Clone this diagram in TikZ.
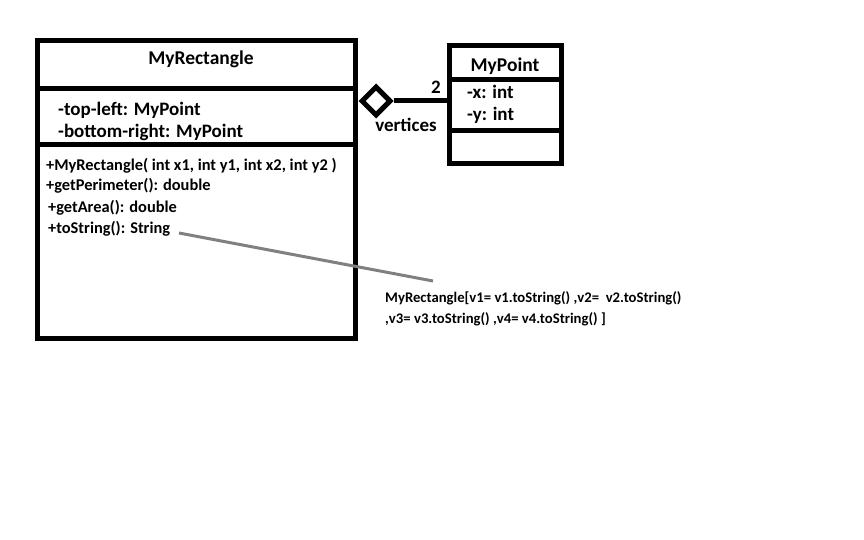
\documentclass[tikz,border=0pt]{standalone}
\usepackage{fontspec}
\setmainfont{Carlito}[BoldFont={Carlito Bold}]
\usetikzlibrary{shapes.geometric}
\begin{document}
\begin{tikzpicture}[x=1pt,y=-1pt,
  box/.style={draw=black,line width=5pt},
  ttl/.style={font=\bfseries\fontsize{19.5}{22}\selectfont,inner sep=0pt},
  attr/.style={font=\bfseries\fontsize{19}{22}\selectfont,anchor=west,inner sep=0pt},
  meth/.style={font=\bfseries\fontsize{16.4}{19}\selectfont,anchor=west,inner sep=0pt},
  notet/.style={font=\bfseries\fontsize{14.7}{17}\selectfont,anchor=west,inner sep=0pt}]
\useasboundingbox[fill=white] (0,0) rectangle (864,540);
% MyRectangle
\draw[box] (37.5,41) rectangle (355,338);
\draw[box] (37.5,89) -- (355,89);
\draw[box] (37.5,145) -- (355,145);
\node[ttl] (rt) at (201,59) {MyRectangle};
\node[attr] (a1) at (58,110) {-top-left: MyPoint};
\node[attr] (a2) at (58,132) {-bottom-right: MyPoint};
\node[meth] (m1) at (46,166) {+MyRectangle( int x1, int y1, int x2, int y2 )};
\node[meth] (m2) at (46,186) {+getPerimeter(): double};
\node[meth] (m3) at (48,208) {+getArea(): double};
\node[meth] (m4) at (48,229) {+toString(): String};
% MyPoint
\draw[box] (449,46) rectangle (561,164);
\draw[box] (449,80) -- (561,80);
\draw[box] (449,131) -- (561,131);
\node[ttl] (pt) at (505,66) {MyPoint};
\node[attr] (px) at (467,92) {-x: int};
\node[attr] (py) at (467,115) {-y: int};
% aggregation
\node[draw=black,line width=5pt,diamond,minimum width=30pt,minimum height=30pt,inner sep=0pt,fill=white] (dm) at (376,101) {};
\coordinate (pl) at (449,101);
\draw[line width=5pt] (dm.east) -- (pl);
\node[attr,anchor=center] (mul) at (436,87) {2};
\node[attr,anchor=center] (role) at (406,125) {vertices};
% note
\coordinate (ls) at (179,233);
\coordinate (le) at (433,281);
\draw[line width=3pt,draw={rgb,255:red,128;green,128;blue,128}] (ls) -- (le);
\node[notet] (n1) at (385,298) {MyRectangle[v1= v1.toString() ,v2=\ \ v2.toString()};
\node[notet] (n2) at (385,319) {,v3= v3.toString() ,v4= v4.toString() ]};
\end{tikzpicture}
\end{document}
